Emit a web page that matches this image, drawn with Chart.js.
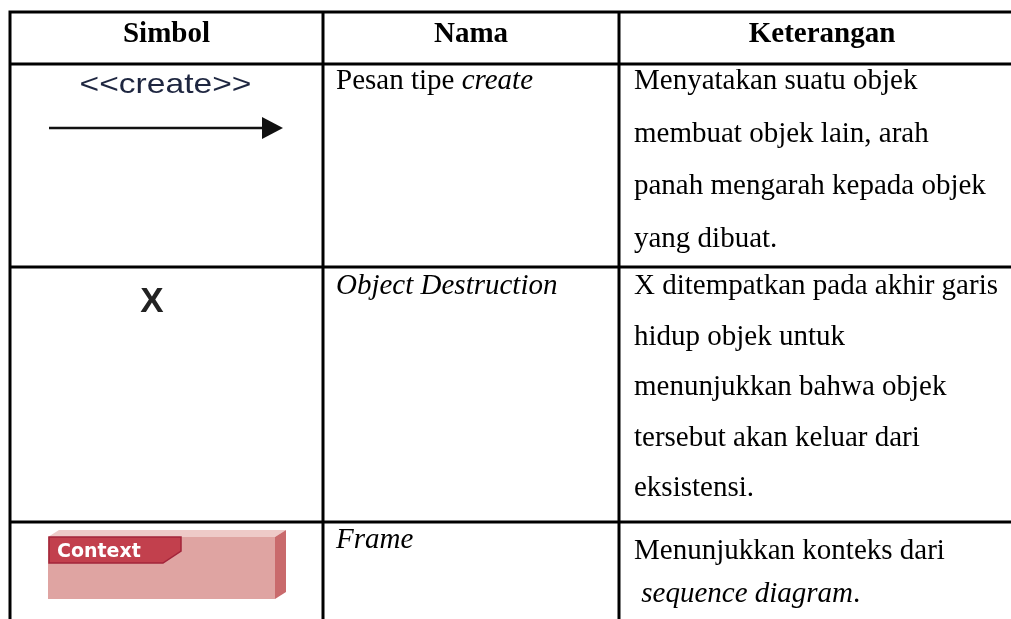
<!DOCTYPE html>
<html>
<head>
<meta charset="utf-8">
<script src="https://cdn.jsdelivr.net/npm/chart.js@4.4.1/dist/chart.umd.min.js"></script>
<style>
  html, body { margin: 0; padding: 0; background: #fff; }
  #wrap { width: 1011px; height: 619px; }
</style>
</head>
<body>
<div id="wrap"><canvas id="tableChart" width="1011" height="619"></canvas></div>
<script>
// table content ( _text_ = italic )
const headers = ['Simbol', 'Nama', 'Keterangan'];
const symbols = ['<<create>>', 'X', 'Context'];
const names = ['Pesan tipe _create_', '_Object Destruction_', '_Frame_'];
const descriptions = [
  ['Menyatakan suatu objek', 'membuat objek lain, arah', 'panah mengarah kepada objek', 'yang dibuat.'],
  ['X ditempatkan pada akhir garis', 'hidup objek untuk', 'menunjukkan bahwa objek', 'tersebut akan keluar dari', 'eksistensi.'],
  ['Menunjukkan konteks dari', ' _sequence diagram_.']
];

// layout, the scales run 1:1 with the canvas
const colEdges = [10, 323, 619, 1025];
const rowEdges = [12, 64, 267, 522, 660];
const headerBase = 42;
const descBase = [89, 294, 559];
const nameBase = [89, 294, 548];
const lineGap = [52.5, 50.5, 43];
const textPad = [13, 15];
const SERIF = '"Liberation Serif", "Times New Roman", serif';
const SANS = '"Liberation Sans", Arial, sans-serif';

function drawRuns(ctx, str, x, y, size, bold, align) {
  const parts = str.split('_');
  const fontFor = i => (i % 2 ? 'italic ' : '') + (bold ? 'bold ' : '') + size + 'px ' + SERIF;
  let total = 0;
  parts.forEach((p, i) => { ctx.font = fontFor(i); total += ctx.measureText(p).width; });
  let cx = align === 'center' ? x - total / 2 : x;
  ctx.textAlign = 'left';
  ctx.textBaseline = 'alphabetic';
  parts.forEach((p, i) => {
    ctx.font = fontFor(i);
    ctx.fillText(p, cx, y);
    cx += ctx.measureText(p).width;
  });
}

const tablePlugin = {
  id: 'tablePlugin',
  afterDraw(chart) {
    const ctx = chart.ctx;
    const xs = chart.scales.x, ys = chart.scales.y;
    const px = v => xs.getPixelForValue(v);
    const py = v => ys.getPixelForValue(v);
    ctx.save();
    ctx.fillStyle = '#000';

    // header
    headers.forEach((h, c) => {
      const mid = (colEdges[c] + colEdges[c + 1]) / 2;
      drawRuns(ctx, h, px(mid), py(headerBase), 29, true, 'center');
    });

    // name + description columns
    names.forEach((n, r) => {
      drawRuns(ctx, n, px(colEdges[1] + textPad[0]), py(nameBase[r]), 29, false, 'left');
    });
    descriptions.forEach((lines, r) => {
      lines.forEach((l, k) => {
        drawRuns(ctx, l, px(colEdges[2] + textPad[1]), py(descBase[r] + k * lineGap[r]), 29, false, 'left');
      });
    });

    // symbol column
    const symMid = (colEdges[0] + colEdges[1]) / 2;
    // <<create>> + arrow
    ctx.save();
    ctx.fillStyle = '#1e2640';
    ctx.font = '28px ' + SANS;
    ctx.textAlign = 'center';
    ctx.translate(px(symMid - 1), py(93));
    ctx.scale(1.2, 1);
    ctx.fillText(symbols[0], 0, 0);
    ctx.restore();
    ctx.strokeStyle = '#111';
    ctx.lineWidth = 2.5;
    ctx.beginPath();
    ctx.moveTo(px(49), py(128));
    ctx.lineTo(px(265), py(128));
    ctx.stroke();
    ctx.fillStyle = '#111';
    ctx.beginPath();
    ctx.moveTo(px(262), py(117));
    ctx.lineTo(px(283), py(128));
    ctx.lineTo(px(262), py(139));
    ctx.closePath();
    ctx.fill();

    // X
    ctx.fillStyle = '#222';
    ctx.font = 'bold 35px ' + SANS;
    ctx.textAlign = 'center';
    ctx.fillText(symbols[1], px(152), py(312));

    // frame box
    ctx.fillStyle = '#eecac8';
    ctx.beginPath();
    ctx.moveTo(px(48), py(537)); ctx.lineTo(px(59), py(530));
    ctx.lineTo(px(286), py(530)); ctx.lineTo(px(275), py(537));
    ctx.closePath(); ctx.fill();
    ctx.fillStyle = '#c96a6c';
    ctx.beginPath();
    ctx.moveTo(px(275), py(537)); ctx.lineTo(px(286), py(530));
    ctx.lineTo(px(286), py(592)); ctx.lineTo(px(275), py(599));
    ctx.closePath(); ctx.fill();
    ctx.fillStyle = '#dfa4a2';
    ctx.fillRect(px(48), py(537), px(275) - px(48), py(599) - py(537));
    ctx.fillStyle = '#c2404d';
    ctx.strokeStyle = '#a3243a';
    ctx.lineWidth = 1.5;
    ctx.beginPath();
    ctx.moveTo(px(49), py(537)); ctx.lineTo(px(181), py(537));
    ctx.lineTo(px(181), py(551)); ctx.lineTo(px(163), py(563));
    ctx.lineTo(px(49), py(563));
    ctx.closePath(); ctx.fill(); ctx.stroke();
    ctx.fillStyle = '#fff';
    ctx.font = 'bold 19px "DejaVu Sans", sans-serif';
    ctx.textAlign = 'left';
    ctx.fillText(symbols[2], px(57), py(557));

    // grid lines
    ctx.strokeStyle = '#000';
    ctx.lineWidth = 3;
    ctx.lineCap = 'square';
    ctx.beginPath();
    rowEdges.forEach(y => {
      ctx.moveTo(px(colEdges[0]), py(y));
      ctx.lineTo(px(colEdges[colEdges.length - 1]), py(y));
    });
    colEdges.forEach(x => {
      ctx.moveTo(px(x), py(rowEdges[0]));
      ctx.lineTo(px(x), py(rowEdges[rowEdges.length - 1]));
    });
    ctx.stroke();
    ctx.restore();
  }
};

new Chart(document.getElementById('tableChart'), {
  type: 'scatter',
  data: { datasets: [{ data: [] }] },
  options: {
    responsive: false,
    animation: false,
    events: [],
    layout: { padding: 0 },
    plugins: { legend: { display: false }, tooltip: { enabled: false } },
    scales: {
      x: { type: 'linear', min: 0, max: 1011, display: false },
      y: { type: 'linear', min: 0, max: 619, reverse: true, display: false }
    }
  },
  plugins: [tablePlugin]
});
</script>
</body>
</html>
